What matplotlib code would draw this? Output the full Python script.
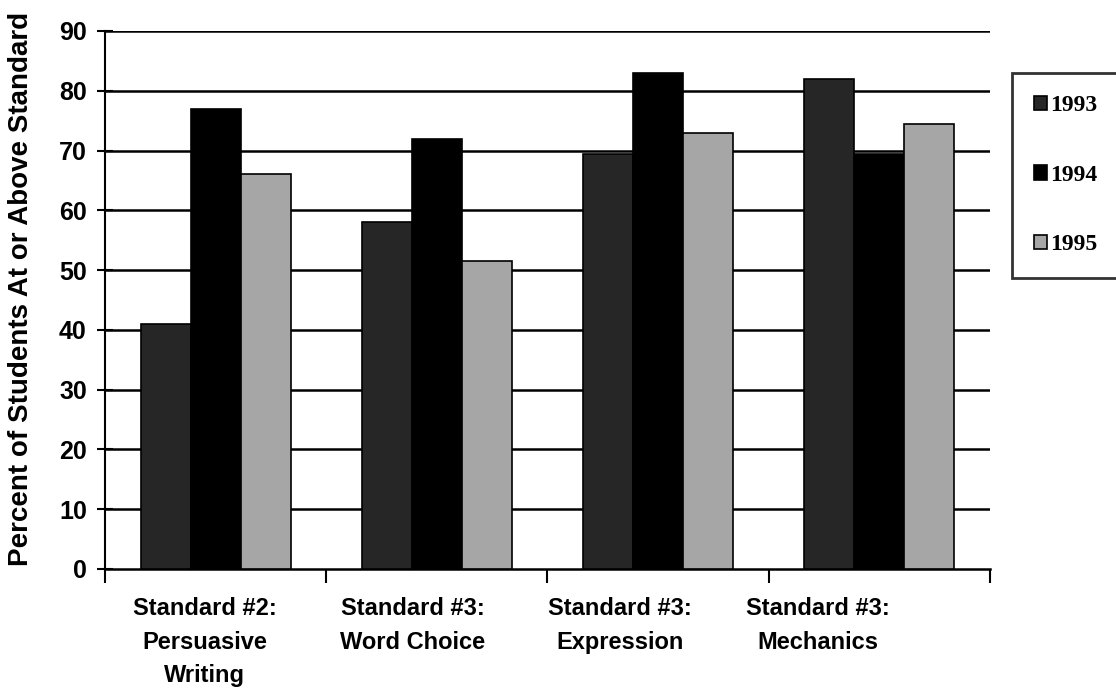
import matplotlib
matplotlib.use("Agg")
import matplotlib.pyplot as plt
import matplotlib.transforms as mtransforms
import numpy as np

categories = ["Standard #2:\nPersuasive\nWriting", "Standard #3:\nWord Choice",
              "Standard #3:\nExpression", "Standard #3:\nMechanics"]
years = ["1993", "1994", "1995"]
v1993 = [41, 58, 69.5, 82]
v1994 = [77, 72, 83, 69.5]
v1995 = [66, 51.5, 73, 74.5]
yticks = [0, 10, 20, 30, 40, 50, 60, 70, 80, 90]

narrow = ["Liberation Sans Narrow", "DejaVu Sans Condensed", "Liberation Sans"]

fig = plt.figure(figsize=(11.16, 6.96), dpi=100)
ax = fig.add_axes([0.094, 0.1825, 0.793, 0.773])

x = np.arange(len(categories))
w = 0.226
colors = ["#262626", "#000000", "#a6a6a6"]
series = [v1993, v1994, v1995]
for i, (vals, c, lab) in enumerate(zip(series, colors, years)):
    ax.bar(x + (i - 1) * w, vals, w, color=c, edgecolor="black", linewidth=1.2,
           label=lab, zorder=3)

ax.set_xlim(-0.5, 3.5)
ax.set_ylim(0, 90)
ax.set_yticks(yticks)
ax.set_yticklabels([str(t) for t in yticks], fontsize=18, fontweight="bold",
                   family="Liberation Sans")
for t in yticks[1:]:
    ax.axhline(t, color="black", linewidth=1.8, zorder=1)

# category boundaries as ticks
ax.set_xticks(np.arange(-0.5, 4.0, 1.0))
ax.set_xticklabels([])
ax.set_xticks(x, minor=True)
ax.set_xticklabels(categories, minor=True, fontsize=17, fontweight="bold",
                   family=narrow, linespacing=1.6)
ax.tick_params(axis="x", which="major", direction="out", length=10, width=1.5)
ax.tick_params(axis="x", which="minor", length=0, pad=20)
ax.tick_params(axis="y", direction="inout", length=12, width=1.5, pad=7)

# the scanned labels sit a little left of the group centres
shifts_px = [-11, -24, -38, -61]
for lbl, dx in zip(ax.get_xticklabels(minor=True), shifts_px):
    lbl.set_transform(lbl.get_transform() +
                      mtransforms.ScaledTranslation(dx / 100, 0, fig.dpi_scale_trans))

for s in ["top", "right"]:
    ax.spines[s].set_visible(False)
ax.spines["left"].set_linewidth(1.5)
ax.spines["bottom"].set_linewidth(1.8)

ax.set_ylabel("Percent of Students At or Above Standard", fontsize=20,
              fontweight="bold", family="Liberation Sans")
ax.yaxis.set_label_coords(-0.08, 0.52)

leg = fig.legend(loc="upper left", bbox_to_anchor=(1012 / 1116, 1 - 73 / 696),
                 bbox_transform=fig.transFigure, frameon=True, fancybox=False,
                 handlelength=0.55, handleheight=0.55, handletextpad=0.12,
                 labelspacing=2.05, borderpad=0.95, borderaxespad=0,
                 prop={"family": "Liberation Serif", "weight": "bold", "size": 17})
leg.get_frame().set_edgecolor("black")
leg.get_frame().set_linewidth(2)

fig.savefig("out.png", dpi=100)
